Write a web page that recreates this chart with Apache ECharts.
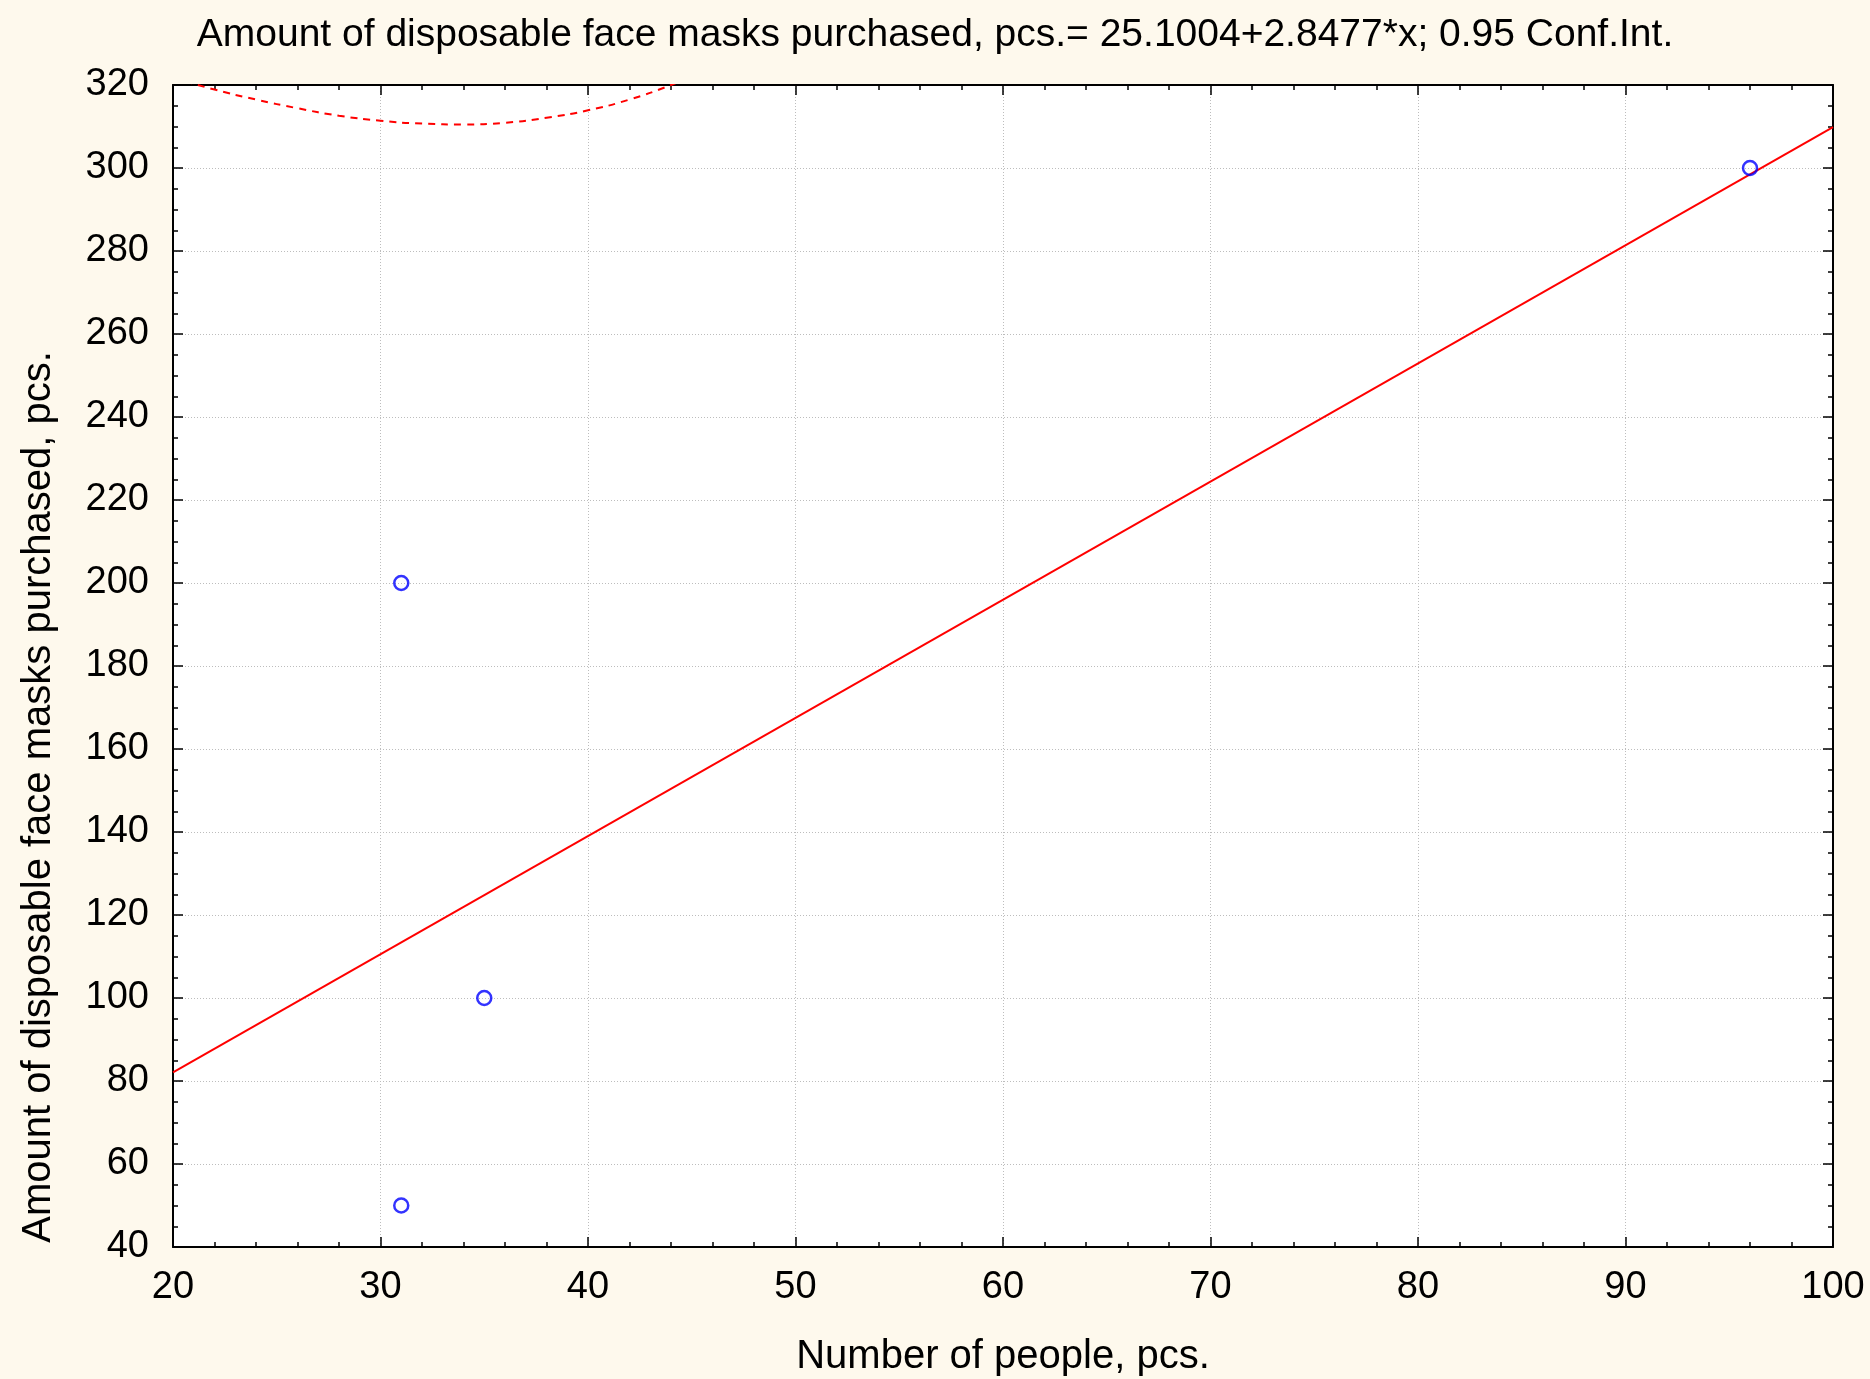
<!DOCTYPE html>
<html>
<head>
<meta charset="utf-8">
<script src="https://cdn.jsdelivr.net/npm/echarts@6/dist/echarts.min.js"></script>
<style>
html,body{margin:0;padding:0;background:#fef9ed;}
#chart{width:1870px;height:1379px;}
</style>
</head>
<body>
<div id="chart"></div>
<script>
// Observed points
const peopleX = [31, 31, 35, 96];
const masksY = [200, 50, 100, 300];
// Fitted line endpoints
const fitX = [20, 100];
const fitY = [82.05, 309.87];
// Upper 0.95 confidence band (dashed)
const ciX = [20, 22, 24, 26, 28, 30, 32, 34, 36, 38, 40, 42, 44, 46];
const ciUpper = [321.8, 318.9, 316.5, 314.4, 312.6, 311.4, 310.7, 310.5, 310.9, 312.1, 313.9, 316.5, 320.0, 324.2];
// Axis ticks
const xTicks = [20, 30, 40, 50, 60, 70, 80, 90, 100];
const yTicks = [40, 60, 80, 100, 120, 140, 160, 180, 200, 220, 240, 260, 280, 300, 320];

const titleText = 'Amount of disposable face masks purchased, pcs.= 25.1004+2.8477*x; 0.95 Conf.Int.';
const xName = 'Number of people, pcs.';
const yName = 'Amount of disposable face masks purchased, pcs.';

const FONT = '"Liberation Sans", Arial, sans-serif';
const zip = (a, b) => a.map((v, i) => [v, b[i]]);

const chart = echarts.init(document.getElementById('chart'));
const baseAxisLine = {show: true, lineStyle: {color: '#000', width: 2}};
const tickIn = {show: true, inside: true, length: 10, lineStyle: {color: '#000', width: 1.5}};
const minorIn = (n) => ({show: true, splitNumber: n, length: 5, lineStyle: {color: '#000', width: 1.5}});

chart.setOption({
  backgroundColor: '#fef9ed',
  animation: false,
  title: {
    text: titleText,
    left: 'center',
    top: 11,
    textStyle: {fontFamily: FONT, fontSize: 39, fontWeight: 'normal', color: '#000'}
  },
  grid: {left: 173, right: 37, top: 85, bottom: 132, show: true, backgroundColor: '#ffffff', borderWidth: 0,
         outerBoundsMode: 'none', containLabel: false},
  xAxis: [{
    type: 'value', min: xTicks[0], max: xTicks[xTicks.length - 1], interval: 10,
    position: 'bottom',
    name: xName, nameLocation: 'middle', nameGap: 90,
    nameTextStyle: {fontFamily: FONT, fontSize: 40, color: '#000'},
    axisLine: baseAxisLine, axisTick: tickIn,
    minorTick: minorIn(5),
    axisLabel: {fontFamily: FONT, fontSize: 38, color: '#000', margin: 22},
    splitLine: {show: true, lineStyle: {color: '#bdbdbd', width: 1, type: [1, 2]}}
  }, {
    type: 'value', min: xTicks[0], max: xTicks[xTicks.length - 1], interval: 10,
    position: 'top',
    axisLine: baseAxisLine, axisTick: tickIn, minorTick: minorIn(5),
    axisLabel: {show: false}, splitLine: {show: false}
  }],
  yAxis: [{
    type: 'value', min: yTicks[0], max: yTicks[yTicks.length - 1], interval: 20,
    position: 'left',
    name: yName, nameLocation: 'middle', nameGap: 114,
    nameTextStyle: {fontFamily: FONT, fontSize: 40, color: '#000', padding: [0, 262, 0, 0]},
    axisLine: baseAxisLine, axisTick: tickIn,
    minorTick: minorIn(4),
    axisLabel: {fontFamily: FONT, fontSize: 38, color: '#000', margin: 24},
    splitLine: {show: true, lineStyle: {color: '#bdbdbd', width: 1, type: [1, 2]}}
  }, {
    type: 'value', min: yTicks[0], max: yTicks[yTicks.length - 1], interval: 20,
    position: 'right',
    axisLine: baseAxisLine, axisTick: tickIn, minorTick: minorIn(4),
    axisLabel: {show: false}, splitLine: {show: false}
  }],
  series: [{
    type: 'line', name: 'CI upper', data: zip(ciX, ciUpper),
    showSymbol: false, symbol: 'none', smooth: true, clip: true,
    lineStyle: {color: '#ff0000', width: 2, type: [7, 6]}, z: 3
  }, {
    type: 'line', name: 'Fit', data: zip(fitX, fitY),
    showSymbol: false, symbol: 'none', clip: true,
    lineStyle: {color: '#ff0000', width: 2}, z: 3
  }, {
    type: 'scatter', name: 'Data', data: zip(peopleX, masksY),
    symbol: 'circle', symbolSize: 14,
    itemStyle: {color: 'rgba(255,255,255,0)', borderColor: '#0000ff', borderWidth: 2.5}, z: 4
  }]
});
</script>
</body>
</html>
